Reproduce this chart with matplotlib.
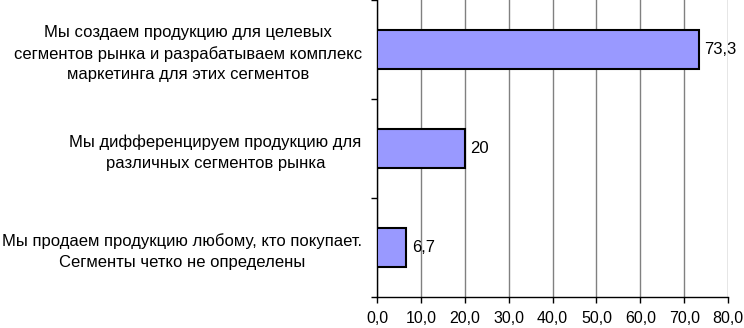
import matplotlib.pyplot as plt
import numpy as np

plt.rcParams['font.family'] = ['Liberation Sans', 'DejaVu Sans']

categories = ['Мы создаем продукцию для целевых\nсегментов рынка и разрабатываем комплекс\nмаркетинга для этих сегментов',
              'Мы дифференцируем продукцию для\nразличных сегментов рынка',
              'Мы продаем продукцию любому, кто покупает.\nСегменты четко не определены']
values = [73.3, 20, 6.7]
value_labels = ['73,3', '20', '6,7']
xticks = [0, 10, 20, 30, 40, 50, 60, 70, 80]

fig = plt.figure(figsize=(7.44, 3.28), dpi=100)
ax = fig.add_axes([377/744, 1 - 297/328, (728-377)/744, 297/328])

y = np.arange(len(categories))
ax.barh(y, values, height=0.4, color='#9999FF', edgecolor='black', linewidth=1.5, zorder=3)
for yi, v, lab in zip(y, values, value_labels):
    ax.text(v + 1.3, yi, lab, va='center', ha='left', fontsize=12)

ax.set_ylim(2.5, -0.5)
ax.set_xlim(0, 80)
ax.set_yticks(y)
ax.set_yticklabels(categories, fontsize=12, multialignment='center', linespacing=1.45)
ax.set_yticks([-0.5, 0.5, 1.5, 2.5], minor=True)
ax.tick_params(axis='y', which='major', length=0, pad=11)
ax.tick_params(axis='y', which='minor', length=4, width=1)

ax.set_xticks(xticks)
ax.set_xticklabels([('%.1f' % t).replace('.', ',') for t in xticks], fontsize=11.5)
ax.tick_params(axis='x', length=4, width=1, pad=6)

ax.grid(axis='x', color='#808080', linewidth=1, zorder=0)
for s in ['top', 'right']:
    ax.spines[s].set_visible(False)
ax.spines['left'].set_linewidth(1)
ax.spines['bottom'].set_linewidth(1)

fig.savefig('out.png', dpi=100)
